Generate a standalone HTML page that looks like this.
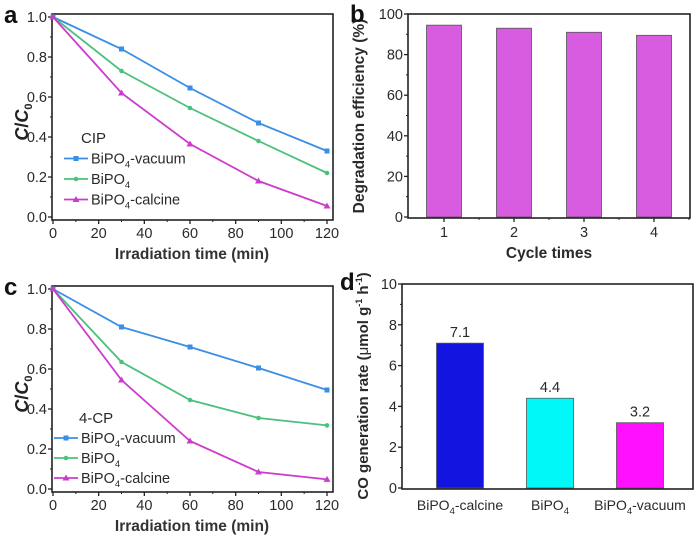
<!DOCTYPE html>
<html><head><meta charset="utf-8"><style>
body{margin:0;background:#fff}
svg{display:block;font-family:"Liberation Sans",Arial,sans-serif}
</style></head><body>
<svg id="s" width="700" height="536" viewBox="0 0 700 536"></svg>
<script>
const timesMin=[0,30,60,90,120];
const aVacuum=[1,0.84,0.645,0.47,0.33];
const aBiPO4=[1,0.73,0.545,0.38,0.22];
const aCalcine=[1,0.62,0.365,0.18,0.055];
const cVacuum=[1,0.81,0.71,0.605,0.495];
const cBiPO4=[1,0.635,0.445,0.355,0.318];
const cCalcine=[1,0.545,0.24,0.085,0.048];
const cycles=[1,2,3,4];
const efficiency=[94.5,93,91,89.5];
const catalysts=["calcine","","vacuum"];
const coRate=[7.1,4.4,3.2];
const xTicksLine=[0,20,40,60,80,100,120];
const yTicksLine=[0,0.2,0.4,0.6,0.8,1.0];
const yTicksB=[0,20,40,60,80,100];
const yTicksD=[0,2,4,6,8,10];

const S=document.getElementById('s');
const NS='http://www.w3.org/2000/svg';
function el(t,a,p){const e=document.createElementNS(NS,t);for(const k in a)e.setAttribute(k,a[k]);(p||S).appendChild(e);return e;}
function txt(x,y,s,a,name){const e=el('text',Object.assign({x:x,y:y,'font-size':14,fill:'#2a2a2a'},a));e.innerHTML=s;


return e;}
function frame(x0,x1,y0,y1,name){const r=el('rect',{x:x0,y:y0,width:x1-x0,height:y1-y0,fill:'none',stroke:'#222','stroke-width':1.6});

}
function yAxis(x0,ticks,sy,fmt,minor){ticks.forEach((t,i)=>{const y=sy(t);el('line',{x1:x0,x2:x0-4,y1:y,y2:y,stroke:'#222','stroke-width':1.3});
txt(x0-5,y+5,fmt(t),{'text-anchor':'end','font-size':14.5},'y-tick-label');
if(minor&&i<ticks.length-1){const m=sy((t+ticks[i+1])/2);el('line',{x1:x0,x2:x0-2,y1:m,y2:m,stroke:'#222'});}});}

function linePanel(px,py,vac,bip,cal,label,lt,name){
 const x0=52,x1=333,yTop=py+14,yBot=py+220;
 const sx=v=>53+v*(327-53)/120, sy=v=>py+217-v*(200);
 frame(x0,x1,yTop,yBot,name+'-frame');
 xTicksLine.forEach((t,i)=>{const x=sx(t);el('line',{x1:x,x2:x,y1:yBot,y2:yBot+4,stroke:'#222','stroke-width':1.3});
  if(i<xTicksLine.length-1){const m=sx(t+10);el('line',{x1:m,x2:m,y1:yBot,y2:yBot+2,stroke:'#222'});}
  txt(x,yBot+18,t,{'text-anchor':'middle','font-size':14.5},'x-tick-label');});
 yAxis(x0,yTicksLine,sy,v=>v.toFixed(1),true);
 const ser=[[vac,'#3a8ee6','sq','vacuum'],[bip,'#4cc07c','dot','bipo4'],[cal,'#cc3ccc','tri','calcine']];
 ser.forEach(([d,c,m,n])=>{
  const p=el('polyline',{points:d.map((v,i)=>sx(timesMin[i])+','+sy(v)).join(' '),fill:'none',stroke:c,'stroke-width':1.8});
  
  
  d.forEach((v,i)=>mark(sx(timesMin[i]),sy(v),c,m));
 });
 txt(28,py+122,'<tspan font-style="italic">C</tspan>/<tspan font-style="italic">C</tspan><tspan font-size="11" dy="4">0</tspan>',{'font-weight':'bold','font-size':18,fill:'#222',transform:'rotate(-90 28 '+(py+122)+')','text-anchor':'middle'},name+'-y-title');
 txt(192,py+259,'Irradiation time (min)',{'font-weight':'bold','text-anchor':'middle','font-size':15.5,fill:'#333'},name+'-x-title');
 txt(4,py+23,label,{'font-weight':'bold','font-size':24,fill:'#111'},name+'-panel-label');
 const lg=lt;
 txt(lg.tx,lg.y0,lg.title,{'font-size':15},name+'-legend-title');
 const names=['BiPO<tspan font-size="9.5" dy="4">4</tspan><tspan dy="-4">-vacuum</tspan>','BiPO<tspan font-size="9.5" dy="4">4</tspan>','BiPO<tspan font-size="9.5" dy="4">4</tspan><tspan dy="-4">-calcine</tspan>'];
 ser.forEach(([d,c,m],i)=>{const y=lg.y0+lg.dy*(i+1)-5;
  el('line',{x1:lg.lx,x2:lg.lx+24,y1:y,y2:y,stroke:c,'stroke-width':1.8});mark(lg.lx+12,y,c,m);
  txt(lg.lx+27,y+5,names[i],{'font-size':14.5},name+'-legend-entry');});
}
function mark(x,y,c,m){
 if(m==='sq')el('rect',{x:x-2.5,y:y-2.5,width:5,height:5,fill:c});
 else if(m==='dot')el('circle',{cx:x,cy:y,r:2.3,fill:c});
 else el('polygon',{points:`${x},${y-3.5} ${x-3.5},${y+2.5} ${x+3.5},${y+2.5}`,fill:c});
}
linePanel(0,0,aVacuum,aBiPO4,aCalcine,'a',{title:'CIP',tx:81,y0:143,dy:20.5,lx:64},'panel-a');
linePanel(0,272,cVacuum,cBiPO4,cCalcine,'c',{title:'4-CP',tx:79,y0:423,dy:20,lx:54},'panel-c');

(function(){
 const x0=408,x1=690,yT=14,yB=218;
 const sx=v=>409+(v-0.5)*70, sy=v=>217-v*2.03;
 cycles.forEach((c,i)=>{const r=el('rect',{x:sx(c)-17.5,y:sy(efficiency[i]),width:35,height:sy(0)-sy(efficiency[i]),fill:'#d85ce0',stroke:'#555','stroke-width':0.8});
  
  
  el('line',{x1:sx(c),x2:sx(c),y1:yB,y2:yB+4,stroke:'#222','stroke-width':1.3});
  txt(sx(c),yB+19,c,{'text-anchor':'middle','font-size':14.5},'x-tick-label');
  el('line',{x1:sx(c)+35,x2:sx(c)+35,y1:yB,y2:yB+2,stroke:'#222'});});
 frame(x0,x1,yT,yB,'panel-b-frame');
 yAxis(x0,yTicksB,sy,v=>v,true);
 txt(364,116,'Degradation efficiency (%)',{'font-weight':'bold','font-size':15.5,transform:'rotate(-90 364 116)','text-anchor':'middle'},'panel-b-y-title');
 txt(549,258,'Cycle times',{'font-weight':'bold','font-size':15.5,'text-anchor':'middle'},'panel-b-x-title');
 txt(350,22,'b',{'font-weight':'bold','font-size':24,fill:'#111'},'panel-b-label');
})();

(function(){
 const x0=402,x1=693,yT=284,yB=489;
 const sx=i=>460+i*90, sy=v=>488-v*20.4;
 const cols=['#1414e0','#00f8f8','#ff10ff'];
 const labs=['BiPO<tspan font-size="9.5" dy="4">4</tspan><tspan dy="-4">-calcine</tspan>','BiPO<tspan font-size="9.5" dy="4">4</tspan>','BiPO<tspan font-size="9.5" dy="4">4</tspan><tspan dy="-4">-vacuum</tspan>'];
 coRate.forEach((v,i)=>{const r=el('rect',{x:sx(i)-23.5,y:sy(v),width:47,height:sy(0)-sy(v),fill:cols[i],stroke:'#555','stroke-width':0.8});
  
  
  txt(sx(i),sy(v)-6,v.toFixed(1),{'text-anchor':'middle','font-size':14.5},'bar-value-label');
  txt(sx(i),yB+21,labs[i],{'text-anchor':'middle','font-size':14},'x-tick-label');});
 frame(x0,x1,yT,yB,'panel-d-frame');
 yAxis(x0,yTicksD,sy,v=>v,true);
 txt(368,386,'CO generation rate (<tspan font-weight="normal">μ</tspan>mol g<tspan font-size="9" dy="-6">-1</tspan><tspan dy="6"> h</tspan><tspan font-size="9" dy="-6">-1</tspan><tspan dy="6">)</tspan>',{'font-weight':'bold','font-size':15,transform:'rotate(-90 368 386)','text-anchor':'middle'},'panel-d-y-title');
 txt(340,290,'d',{'font-weight':'bold','font-size':24,fill:'#111'},'panel-d-label');
})();
</script>
</body></html>
